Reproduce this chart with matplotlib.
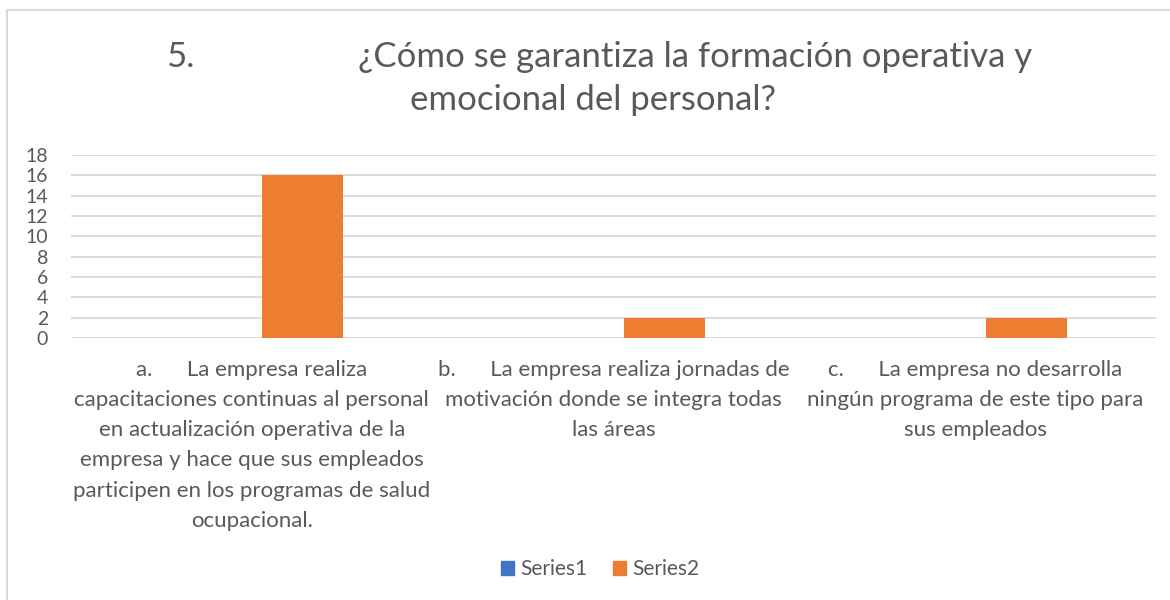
import matplotlib
matplotlib.use("Agg")
import matplotlib.pyplot as plt
import numpy as np
from matplotlib.patches import Rectangle

plt.rcParams['font.family'] = ['Lato', 'DejaVu Sans']

categories = [
    "a.      La empresa realiza\ncapacitaciones continuas al personal\nen actualización operativa de la\nempresa y hace que sus empleados\nparticipen en los programas de salud\nocupacional.",
    "b.      La empresa realiza jornadas de\nmotivación donde se integra todas\nlas áreas",
    "c.      La empresa no desarrolla\nningún programa de este tipo para\nsus empleados",
]
series_names = ["Series1", "Series2"]
series1 = [0, 0, 0]
series2 = [16, 2, 2]
yticks = [0, 2, 4, 6, 8, 10, 12, 14, 16, 18]
title_num = "5."
title_line1 = "¿Cómo se garantiza la formación operativa y"
title_line2 = "emocional del personal?"

colors = ["#4472C4", "#ED7D31"]
text_color = "#595959"
grid_color = "#d9d9d9"

W, H = 1170, 600
fig = plt.figure(figsize=(W / 100, H / 100), dpi=100)
fig.patch.set_facecolor("white")

# chart border
fig.patches.append(Rectangle((7 / W, -0.1), 1.2, 1.1 - 10 / H, transform=fig.transFigure,
                             fill=False, edgecolor=grid_color, lw=1.5, zorder=0))

ax = fig.add_axes([71 / W, 1 - 338 / H, (1156 - 71) / W, (338 - 155) / H])
x = np.arange(len(categories))
off = 0.141
bw = 0.224
ax.bar(x - off, series1, bw, color=colors[0], label=series_names[0], zorder=3)
ax.bar(x + off, series2, bw, color=colors[1], label=series_names[1], zorder=3)

ax.set_xlim(-0.5, len(categories) - 0.5)
ax.set_ylim(0, 18)
ax.set_yticks(yticks)
for t in yticks:
    ax.axhline(t, color=grid_color, lw=1.3, zorder=1)
for s in ax.spines.values():
    s.set_visible(False)
ax.tick_params(axis='y', length=0, pad=16.5, labelsize=14, labelcolor=text_color)
ax.set_xticks(x)
ax.set_xticklabels(categories, fontsize=16, color=text_color, linespacing=1.63, va='top')
ax.tick_params(axis='x', length=0, pad=16)

# title
fig.text(166 / W, 1 - 67 / H, title_num, fontsize=25, color=text_color, ha='left', va='baseline')
fig.text(358 / W, 1 - 67 / H, title_line1, fontsize=25, color=text_color, ha='left', va='baseline')
fig.text(410 / W, 1 - 110 / H, title_line2, fontsize=25, color=text_color, ha='left', va='baseline')

handles = [Rectangle((0, 0), 1, 1, color=c) for c in colors]
leg = fig.legend(handles, series_names, loc='center', bbox_to_anchor=(600 / W, 1 - 569 / H),
                 ncol=2, frameon=False, fontsize=15, handlelength=0.65, handleheight=0.65,
                 handletextpad=0.3, columnspacing=1.2)
for t in leg.get_texts():
    t.set_color(text_color)

fig.savefig("out.png", dpi=100)
